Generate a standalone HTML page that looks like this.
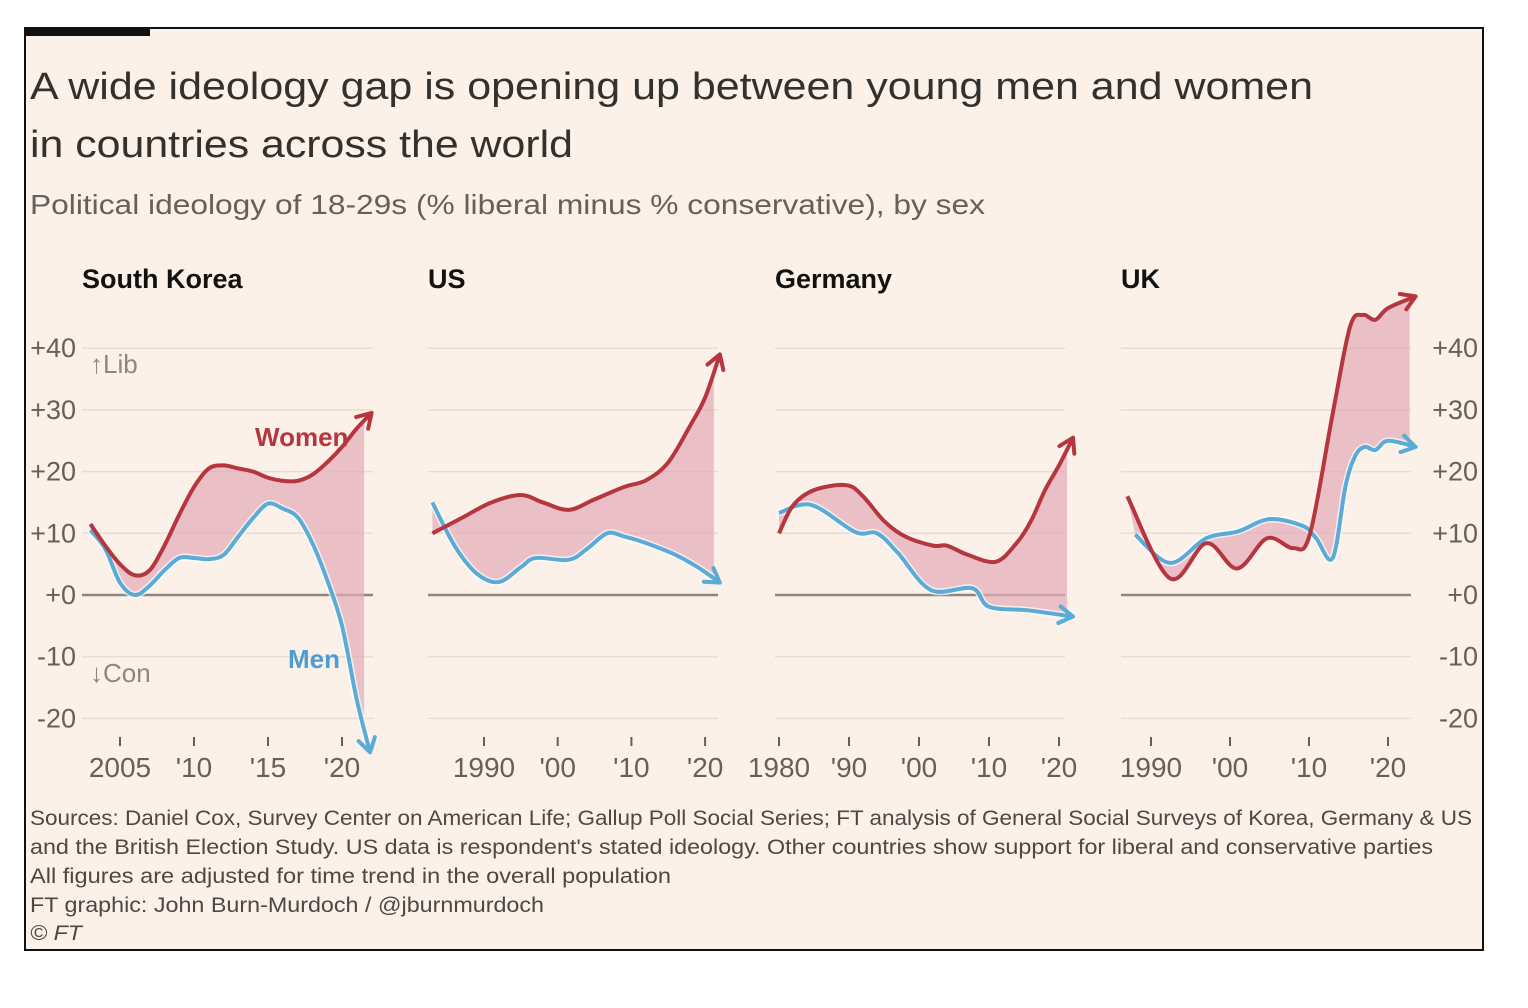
<!DOCTYPE html>
<html><head><meta charset="utf-8"><style>
html,body{margin:0;padding:0;background:#fff;}
svg{display:block;font-family:"Liberation Sans",sans-serif;}
</style></head><body>
<svg id="chart" width="1528" height="1008" viewBox="0 0 1528 1008">
<rect x="25" y="28" width="1458" height="922" fill="#fbf1e8" stroke="#111" stroke-width="2"/>
<rect x="25" y="28" width="125" height="8" fill="#111"/>
<text x="30" y="99" font-size="38" fill="#33302e" textLength="1283" lengthAdjust="spacingAndGlyphs">A wide ideology gap is opening up between young men and women</text>
<text x="30" y="157" font-size="38" fill="#33302e" textLength="543" lengthAdjust="spacingAndGlyphs">in countries across the world</text>
<text x="30" y="214" font-size="28" fill="#66605c" textLength="955" lengthAdjust="spacingAndGlyphs">Political ideology of 18-29s (% liberal minus % conservative), by sex</text>
<g id="panels"></g>
<g font-size="21" fill="#4d4845">
<text x="30" y="825" textLength="1442" lengthAdjust="spacingAndGlyphs">Sources: Daniel Cox, Survey Center on American Life; Gallup Poll Social Series; FT analysis of General Social Surveys of Korea, Germany &amp; US</text>
<text x="30" y="854" textLength="1403" lengthAdjust="spacingAndGlyphs">and the British Election Study. US data is respondent's stated ideology. Other countries show support for liberal and conservative parties</text>
<text x="30" y="883" textLength="641" lengthAdjust="spacingAndGlyphs">All figures are adjusted for time trend in the overall population</text>
<text x="30" y="912" textLength="514" lengthAdjust="spacingAndGlyphs">FT graphic: John Burn-Murdoch / @jburnmurdoch</text>
<text x="30" y="940" font-style="italic" textLength="52" lengthAdjust="spacingAndGlyphs">© FT</text>
</g>
</svg>
<script>
const yTicks=[40,30,20,10,0,-10,-20];
const yTickLabels=["+40","+30","+20","+10","+0","-10","-20"];
const countries=["South Korea","US","Germany","UK"];
const skYears=[2003,2004,2005,2006,2007,2008,2009,2010,2011,2012,2013,2014,2015,2016,2017,2018,2019,2020,2021,2022];
const skWomen=[11.5,8,5,3.2,4,8,13,17.5,20.5,21,20.5,20,19,18.5,18.5,19.5,21.5,24,27,29.5];
const skMenYears=[2003,2004,2005,2006,2007,2008,2009,2010,2011,2012,2013,2014,2015,2016,2017,2018,2019,2020,2021,2021.9];
const skMen=[10.5,7.5,2,0,1.5,4,6,6,5.8,6.5,9.5,12.5,14.8,14,12.6,8.4,2.4,-5,-17,-25.5];
const usWYears=[1983,1987,1991,1995,1998,2001.5,2005,2009,2012,2015,2018,2020,2022];
const usWomen=[10,12.5,15,16.2,15,13.8,15.5,17.5,18.6,21.5,27.5,32,39];
const usMYears=[1983,1986,1989,1992,1995,1997,2001.5,2004,2006.7,2009,2012,2016,2019,2022];
const usMen=[15,8,3.5,2.1,4.5,6,5.7,7.5,10,9.5,8.4,6.5,4.5,2];
const deWYears=[1980,1982,1985,1989.6,1992,1995,1998,2002,2004,2007,2011,2014,2016,2018,2020,2022];
const deWomen=[10,14.5,17,17.8,16,12,9.5,8,8,6.5,5.4,8.5,12,17,21,25.5];
const deMYears=[1980,1984.6,1990.9,1994,1997,2001.7,2007.6,2010,2015.7,2022];
const deMen=[13.3,14.6,10.2,10,6.8,0.8,1.1,-1.9,-2.5,-3.5];
const ukWYears=[1987,1992.4,1997,2000.9,2004.7,2008,2010.1,2013,2015.2,2016.8,2018.4,2020,2023.5];
const ukWomen=[16,2.7,8.4,4.3,9.2,7.6,9.8,29.4,43.5,45.4,44.6,46.5,48.4];
const ukMYears=[1988,1992.4,1997,2001,2005,2009.2,2010.9,2013,2014.6,2015.8,2017,2018.4,2020,2023.5];
const ukMen=[9.8,5.2,9.2,10.3,12.3,11.2,9.2,6,17.5,22.4,24,23.5,25,24];
const xTickYears=[[2005,2010,2015,2020],[1990,2000,2010,2020],[1980,1990,2000,2010,2020],[1990,2000,2010,2020]];
const xTickLabels=[["2005","'10","'15","'20"],["1990","'00","'10","'20"],["1980","'90","'00","'10","'20"],["1990","'00","'10","'20"]];

const panels=[
 {name:"south-korea",title:"South Korea",tx:82,gx0:82,gx1:373,y0:2005,x0:120,ppy:14.8,wy:skYears,w:skWomen,my:skMenYears,m:skMen},
 {name:"us",title:"US",tx:428,gx0:428,gx1:718,y0:1990,x0:484,ppy:7.37,wy:usWYears,w:usWomen,my:usMYears,m:usMen},
 {name:"germany",title:"Germany",tx:775,gx0:775,gx1:1065,y0:1980,x0:779,ppy:7.0,wy:deWYears,w:deWomen,my:deMYears,m:deMen},
 {name:"uk",title:"UK",tx:1121,gx0:1121,gx1:1411,y0:1990,x0:1151,ppy:7.9,wy:ukWYears,w:ukWomen,my:ukMYears,m:ukMen}
];
const NS="http://www.w3.org/2000/svg";
const root=document.getElementById('panels');
const yScale=v=>595-v*6.17;
function mk(tag,attrs,parent){const e=document.createElementNS(NS,tag);for(const k in attrs)e.setAttribute(k,attrs[k]);parent.appendChild(e);return e;}
function smooth(pts){let d="M"+pts[0][0]+","+pts[0][1];for(let i=0;i<pts.length-1;i++){const p0=pts[i-1]||pts[i],p1=pts[i],p2=pts[i+1],p3=pts[i+2]||p2;
 const c1=[p1[0]+(p2[0]-p0[0])/6,p1[1]+(p2[1]-p0[1])/6],c2=[p2[0]-(p3[0]-p1[0])/6,p2[1]-(p3[1]-p1[1])/6];
 d+=" C"+c1[0]+","+c1[1]+" "+c2[0]+","+c2[1]+" "+p2[0]+","+p2[1];}return d;}
function smoothCont(pts){return smooth(pts).replace(/^M/,"L");}
function arrowHead(pts,color,g){const a=pts[pts.length-2],b=pts[pts.length-1];const ang=Math.atan2(b[1]-a[1],b[0]-a[0]);const L=16,s=0.55;
 const p1=[b[0]-L*Math.cos(ang-s),b[1]-L*Math.sin(ang-s)],p2=[b[0]-L*Math.cos(ang+s),b[1]-L*Math.sin(ang+s)];
 return mk('path',{d:"M"+p1+" L"+b+" L"+p2,fill:"none",stroke:color,"stroke-width":4,"stroke-linecap":"round","stroke-linejoin":"round"},g);}
panels.forEach((p,pi)=>{
 const g=mk('g',{},root);
 
 
 const xs=yr=>p.x0+(yr-p.y0)*p.ppy;
 const t=mk('text',{x:p.tx,y:288,"font-size":27,"font-weight":"bold",fill:"#111"},g);t.textContent=p.title;
 
 
 yTicks.forEach((v,i)=>{const l=mk('line',{x1:p.gx0,x2:p.gx1,y1:yScale(v),y2:yScale(v),stroke:v===0?"#8e8681":"#e8ddd3","stroke-width":v===0?2.5:1.5},g);
  
  });
 xTickYears[pi].forEach((yr,i)=>{const x=xs(yr);mk('line',{x1:x,x2:x,y1:737,y2:746,stroke:"#66605c","stroke-width":2},g);
  const tl=mk('text',{x:x,y:777,"font-size":28,fill:"#66605c","text-anchor":"middle"},g);tl.textContent=xTickLabels[pi][i];
  
  });
 const wp=p.wy.map((yr,i)=>[xs(yr),yScale(p.w[i])]);
 const mp=p.my.map((yr,i)=>[xs(yr),yScale(p.m[i])]);
 const endX=Math.min(wp[wp.length-1][0],mp[mp.length-1][0])-6;
 const clipId="clip"+pi;const cp=mk('clipPath',{id:clipId},g);mk('rect',{x:0,y:0,width:endX,height:1008},cp);
 const fill=mk('path',{d:smooth(wp)+" L"+mp[mp.length-1]+" "+smoothCont(mp.slice().reverse())+" Z",fill:"#e4a9b8","fill-opacity":0.7,"clip-path":"url(#"+clipId+")"},g);
 
 
 mk('path',{d:smooth(mp),fill:"none",stroke:"#fff","stroke-width":7,"stroke-opacity":0.7},g);
 const m=mk('path',{d:smooth(mp),fill:"none",stroke:"#5aabd6","stroke-width":4},g);
 
 
 arrowHead(mp,"#5aabd6",g);
 const w=mk('path',{d:smooth(wp),fill:"none",stroke:"#b6363f","stroke-width":4},g);
 
 
 arrowHead(wp,"#b6363f",g);
});
const ax=document.createElementNS(NS,'g');root.appendChild(ax);


yTicks.forEach((v,i)=>{
 const l=mk('text',{x:76,y:yScale(v)+9,"font-size":27,fill:"#66605c","text-anchor":"end"},ax);l.textContent=yTickLabels[i];
 
 
 const r=mk('text',{x:1478,y:yScale(v)+9,"font-size":27,fill:"#66605c","text-anchor":"end"},ax);r.textContent=yTickLabels[i];
 
 
});
const ann=[["↑Lib",90,373,"#8e8681","lib-label"],["↓Con",90,682,"#8e8681","con-label"],["Women",255,446,"#b6363f","women-label"],["Men",288,668,"#4a9fd0","men-label"]];
ann.forEach(a=>{const t=mk('text',{x:a[1],y:a[2],"font-size":26,fill:a[3],"font-weight":a[4].startsWith('w')||a[4].startsWith('m')?"bold":"normal"},ax);t.textContent=a[0];
 
 });
</script>
</body></html>
